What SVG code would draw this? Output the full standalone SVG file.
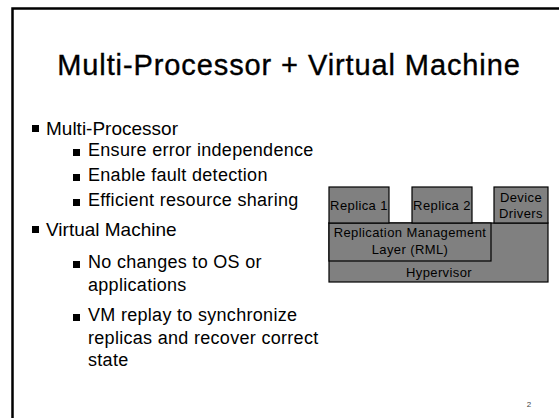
<svg xmlns="http://www.w3.org/2000/svg" width="559" height="418" viewBox="0 0 559 418">
  <style>
    text { font-family: "Liberation Sans", Arial, sans-serif; fill: #000; }
    .title { font-size: 29px; letter-spacing: 0.9px; stroke: #000; stroke-width: 0.35px; }
    .l1 { font-size: 19px; }
    .l2 { font-size: 18px; letter-spacing: 0.3px; }
    .box { fill: #808080; stroke: #000; stroke-width: 1.2; }
    .lbl { font-size: 13px; letter-spacing: 0.4px; }
  </style>
  <rect width="559" height="418" fill="#fff"/>
  <!-- slide frame -->
  <path d="M12.5 418 V8.5 H559" fill="none" stroke="#000" stroke-width="2.5"/>

  <text class="title" x="289" y="75" text-anchor="middle">Multi-Processor + Virtual Machine</text>

  <!-- bullet list -->
  <g id="bullets">
    <rect x="32" y="125" width="7" height="7"/>
    <text class="l1" x="46" y="135">Multi-Processor</text>
    <rect x="73" y="149" width="7" height="7"/>
    <text class="l2" x="88" y="156">Ensure error independence</text>
    <rect x="73" y="174" width="7" height="7"/>
    <text class="l2" x="88" y="181">Enable fault detection</text>
    <rect x="73" y="199" width="7" height="7"/>
    <text class="l2" x="88" y="206">Efficient resource sharing</text>
    <rect x="32" y="226" width="7" height="7"/>
    <text class="l1" x="46" y="236">Virtual Machine</text>
    <rect x="73" y="261" width="7" height="7"/>
    <text class="l2" x="88" y="268">No changes to OS or</text>
    <text class="l2" x="88" y="291">applications</text>
    <rect x="73" y="314" width="7" height="7"/>
    <text class="l2" x="88" y="321">VM replay to synchronize</text>
    <text class="l2" x="88" y="344">replicas and recover correct</text>
    <text class="l2" x="88" y="366">state</text>
  </g>

  <!-- system stack -->
  <g id="hypervisor">
    <rect class="box" x="329" y="223" width="219" height="59"/>
    <text class="lbl" x="439" y="277" text-anchor="middle">Hypervisor</text>
  </g>
  <g id="rml">
    <rect class="box" x="329" y="223" width="162" height="38"/>
    <text class="lbl" x="410" y="237" text-anchor="middle">Replication Management</text>
    <text class="lbl" x="410" y="254" text-anchor="middle">Layer (RML)</text>
  </g>
  <g id="replica1">
    <rect class="box" x="329" y="187" width="60" height="36"/>
    <text class="lbl" x="359" y="210" text-anchor="middle">Replica 1</text>
  </g>
  <g id="replica2">
    <rect class="box" x="412" y="187" width="60" height="36"/>
    <text class="lbl" x="442" y="210" text-anchor="middle">Replica 2</text>
  </g>
  <g id="drivers">
    <rect class="box" x="494" y="187" width="54" height="36"/>
    <text class="lbl" x="521" y="202" text-anchor="middle">Device</text>
    <text class="lbl" x="521" y="218" text-anchor="middle">Drivers</text>
  </g>

  <text x="529" y="407" font-size="8" text-anchor="middle" style="fill:#444">2</text>
</svg>
